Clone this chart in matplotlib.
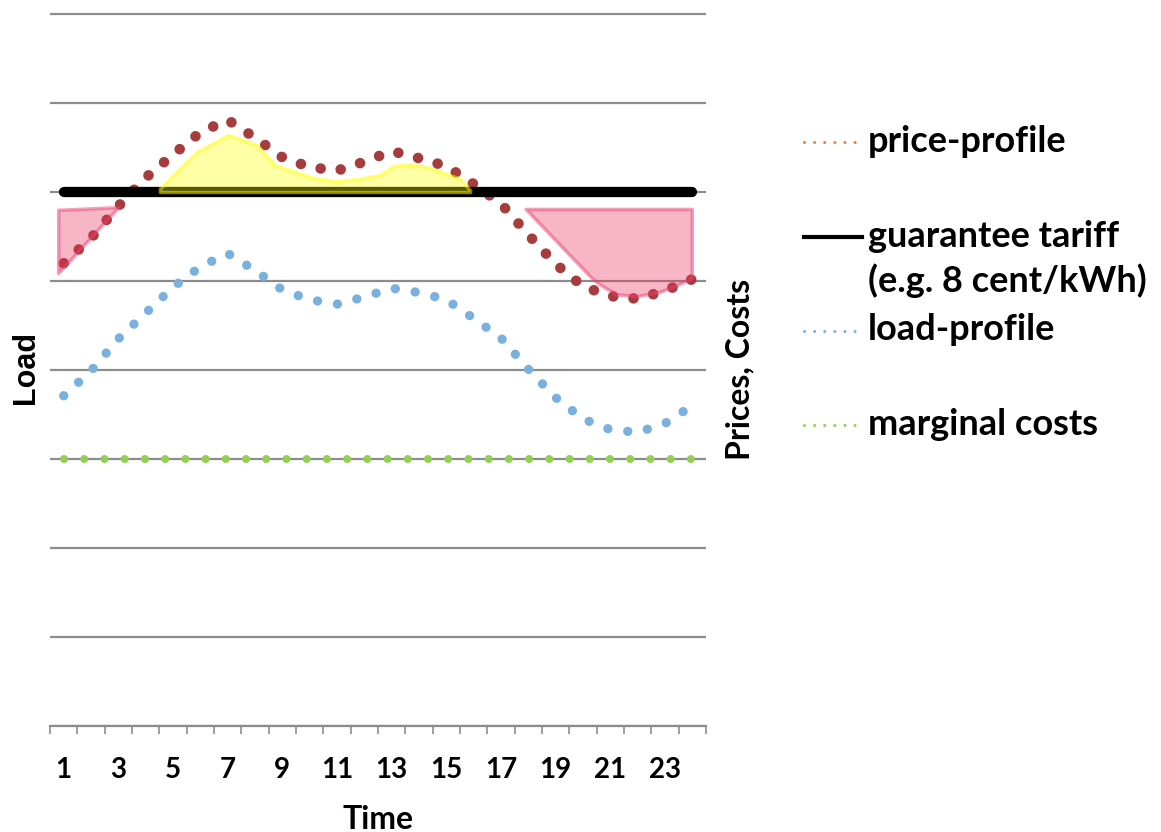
import matplotlib
matplotlib.use("Agg")
import matplotlib.pyplot as plt
from matplotlib.lines import Line2D

plt.rcParams["font.family"] = ["Lato", "DejaVu Sans"]
plt.rcParams["font.weight"] = "bold"

# hourly profiles (hour 1..24)
hours = list(range(1, 25))
price = [5.20, 5.48, 5.84, 6.16, 6.42, 6.67, 6.81, 6.61, 6.39, 6.28, 6.24, 6.34,
         6.46, 6.38, 6.29, 6.09, 5.87, 5.52, 5.19, 4.94, 4.83, 4.80, 4.89, 5.02]
load = [3.71, 3.99, 4.35, 4.64, 4.93, 5.16, 5.31, 5.12, 4.90, 4.79, 4.74, 4.82,
        4.92, 4.87, 4.79, 4.58, 4.36, 4.01, 3.69, 3.45, 3.33, 3.30, 3.40, 3.60]
tariff = [6.0] * 24
marginal = [3.0] * 24

# surplus area above the tariff
surplus_x = [4.52, 5.87, 7.02, 8.06, 8.73, 10.12, 10.93, 11.84, 12.57, 13.05,
             13.67, 14.28, 15.50, 15.87]
surplus_top = [6.04, 6.45, 6.64, 6.53, 6.30, 6.16, 6.12, 6.15, 6.19, 6.29,
               6.31, 6.28, 6.15, 6.02]

# shortfall areas below the tariff
morning_x = [0.80, 3.00]
morning_top = [5.80, 5.83]
morning_low = [5.09, 5.83]

evening_x = [17.90, 20.33, 20.62, 21.23, 21.97, 22.82, 23.31, 23.98]
evening_top = [5.81] * 8
evening_low = [5.81, 5.03, 4.96, 4.85, 4.83, 4.88, 4.94, 5.03]

tick_labels = [str(h) for h in range(1, 24, 2)]

W, H = 1161, 832
fig = plt.figure(figsize=(W / 100, H / 100), dpi=100)
ax_left, ax_right, ax_bottom = 50, 706, 726
ymax = 8.05
unit = 89.0
ax = fig.add_axes([ax_left / W, (H - ax_bottom) / H,
                   (ax_right - ax_left) / W, ymax * unit / H])

grid_c = "#8C8C8C"
ax.set_xlim(0.5, 24.5)
ax.set_ylim(0, ymax)
ax.set_yticks(range(0, 9))
ax.set_yticklabels([])
ax.tick_params(axis="y", length=0)
ax.grid(axis="y", color=grid_c, lw=1.6, zorder=0)
ax.set_axisbelow(True)
for s in ("top", "left", "right"):
    ax.spines[s].set_visible(False)
ax.spines["bottom"].set_color(grid_c)
ax.spines["bottom"].set_linewidth(1.6)

ax.set_xticks([h + 0.5 for h in range(0, 25)])
ax.set_xticklabels([])
ax.tick_params(axis="x", which="major", direction="out", length=6,
               width=1.2, color=grid_c)
ax.set_xticks(list(range(1, 24, 2)), minor=True)
ax.set_xticklabels(tick_labels, minor=True, fontsize=20, fontweight="bold")
ax.tick_params(axis="x", which="minor", length=0, pad=22)

ax.plot(hours, marginal, color="#92D050", lw=5.8, linestyle=(0, (0.01, 2.5)),
        dash_capstyle="round", zorder=2)
ax.plot(hours, load, color="#79B0DE", lw=6.7, linestyle=(0, (0.01, 2.15)),
        dash_capstyle="round", zorder=2)
ax.plot(hours, price, color="#A63C3C", lw=7.6, linestyle=(0, (0.01, 1.92)),
        dash_capstyle="round", zorder=3)
ax.plot(hours, tariff, color="black", lw=7.4, solid_capstyle="round", zorder=3)

ax.fill_between(surplus_x, tariff[0], surplus_top, facecolor=(1, 1, 0, 0.35),
                edgecolor=(1, 1, 0, 0.5), lw=2.5, zorder=4)
ax.fill_between(morning_x, morning_low, morning_top,
                facecolor=(0.91, 0.19, 0.35, 0.35),
                edgecolor=(0.93, 0.25, 0.44, 0.5), lw=2.5, zorder=4)
ax.fill_between(evening_x, evening_low, evening_top,
                facecolor=(0.91, 0.19, 0.35, 0.35),
                edgecolor=(0.93, 0.25, 0.44, 0.5), lw=2.5, zorder=4)

ax.set_xlabel("Time", fontsize=23, fontweight="bold", labelpad=16)
ax.text(-0.0366, 0.5, "Load", rotation=90, ha="center", va="center",
        fontsize=22, fontweight="bold", family="Liberation Sans",
        transform=ax.transAxes)
ax.text(1.052, 0.497, "Prices, Costs", rotation=90, ha="center", va="center",
        fontsize=23, fontweight="bold", transform=ax.transAxes)

# legend, drawn by hand so the two-line entry lines up with its first row
dotted = dict(lw=2.2, linestyle=(0, (0.01, 3.3)), dash_capstyle="round")
legend_rows = [
    ("price-profile", 142, 152, dict(color="#ED7D31", **dotted)),
    ("guarantee tariff", 237, 247, dict(color="black", lw=3)),
    ("(e.g. 8 cent/kWh)", None, 292, None),
    ("load-profile", 331, 340, dict(color="#79B0DE", **dotted)),
    ("marginal costs", 425, 435, dict(color="#92D050", **dotted)),
]
for label, y_line, y_base, style in legend_rows:
    if style is not None:
        yf = 1 - y_line / H
        fig.add_artist(Line2D([804 / W, 862 / W], [yf, yf],
                              transform=fig.transFigure, **style))
    fig.text(868 / W, 1 - y_base / H, label, ha="left", va="baseline",
             fontsize=26, fontweight="bold")

fig.savefig("out.png", dpi=100)
